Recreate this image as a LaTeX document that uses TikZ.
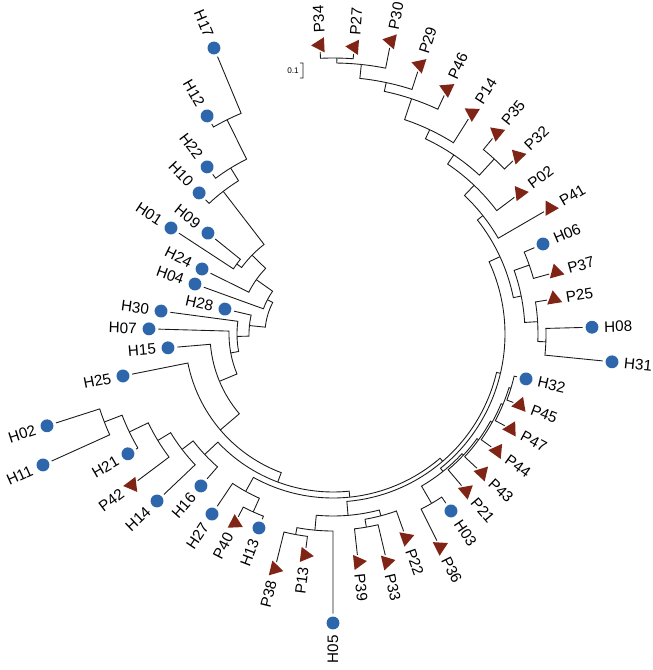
\documentclass[tikz,border=0pt]{standalone}
\usepackage{fontspec}
\setmainfont{Liberation Sans}
\usetikzlibrary{shapes.geometric}
\definecolor{hblue}{RGB}{46,102,172}
\definecolor{pred}{RGB}{128,36,22}

\begin{document}
\begin{tikzpicture}[scale=0.03,
  hdot/.style={circle,fill=hblue,minimum size=11pt,inner sep=0pt,outer sep=2.5pt},
  ptri/.style={regular polygon,regular polygon sides=3,fill=pred,minimum size=15pt,inner sep=0pt,outer sep=1.5pt},
  lbl/.style={font=\fontsize{13}{14}\selectfont,inner sep=0pt},
  ls/.style={anchor=east,rotate=180},
  rs/.style={anchor=west},
  br/.style={line width=0.75pt,black!90}
]
\useasboundingbox (-333,-336) rectangle (320,334);

% tips: name/angle/radius/marker/label side
\foreach \n/\a/\r/\k/\s in {
  H17/112.6/309.8/hdot/ls, H12/120.0/251.8/hdot/ls, H22/127.0/209.2/hdot/ls,
  H10/133.5/194.5/hdot/ls, H09/141.1/160.7/hdot/ls, H01/146.8/193.6/hdot/ls,
  H24/153.6/146.2/hdot/ls, H04/160.1/146.8/hdot/ls, H28/167.0/110.9/hdot/ls,
  H30/172.4/173.5/hdot/ls, H07/178.4/184.1/hdot/ls, H15/184.8/165.6/hdot/ls,
  H25/191.3/214.2/hdot/ls, H02/197.8/300.4/hdot/ls, H11/204.3/318.2/hdot/ls,
  H21/210.3/237.5/hdot/ls, P42/216.9/251.4/ptri/ls, H14/223.5/242.6/hdot/ls,
  H16/229.0/201.3/hdot/ls, H27/236.1/216.9/hdot/ls, P40/242.6/212.9/ptri/ls,
  H13/249.1/207.6/hdot/ls, P38/256.1/242.1/ptri/ls, P13/262.8/222.8/ptri/ls,
  H05/270.0/289.0/hdot/ls, P39/276.3/229.4/ptri/rs, P33/283.3/234.3/ptri/rs,
  P22/289.7/216.7/ptri/rs, P36/296.7/238.4/ptri/rs, H03/303.7/212.7/hdot/rs,
  P21/310.3/205.8/ptri/rs, P43/317.0/203.8/ptri/rs, P44/324.5/201.5/ptri/rs,
  P47/331.9/201.8/ptri/rs, P45/339.2/200.0/ptri/rs, H32/346.9/198.2/hdot/rs,
  H31/354.3/280.4/hdot/rs, H08/361.5/259.1/hdot/rs, P25/369.0/223.8/ptri/rs,
  P37/375.5/231.5/ptri/rs, H06/383.2/228.5/hdot/rs, P41/390.1/250.9/ptri/rs,
  P02/397.0/234.2/ptri/rs, P32/403.9/256.7/ptri/rs, P35/410.8/259.4/ptri/rs,
  P14/417.8/261.1/ptri/rs, P46/425.0/270.2/ptri/rs, P29/432.1/282.7/ptri/rs,
  P30/438.8/298.7/ptri/rs, P27/445.8/287.8/ptri/rs, P34/452.6/289.3/ptri/rs}{
  \node[\k,rotate=\a] (\n) at (\a:\r) {};
  \node[lbl,rotate=\a,\s] at ({\a}:{\r+12}) {\n};
}

% inner nodes: name/angle/radius
\foreach \n/\a/\r in {
  A1/116.3/239, A2/121.65/195, A3/127.58/180, C1/143.95/119, A4/135.77/113,
  A5/144.69/94, A6/152.39/74, K0/201.05/245, K1/205.68/226, K2/211.29/205,
  K3/217.4/190, K4/223.2/176, M0/245.85/195, M1/240.98/180, N1/259.45/204,
  N2/264.73/197, N3/279.8/196, N4/284.75/188, B1/274.74/182, N5/300.2/196,
  S1/343.05/186, S2/337.48/184, S3/330.99/182, S4/324.0/180, S5/317.15/178,
  S6/308.68/176, Q0/357.9/213, Q2/363.45/205, Q1/379.35/208, Q3/371.4/192,
  U1/407.35/238, T1/449.2/276, T2/444.0/271, T3/438.05/257, T4/431.53/248,
  T5/424.66/226, T6/416.0/216, T7/406.5/205, T8/398.3/191, V/384.85/184,
  S7/346.77/172, S8/310.75/168, S9/275.87/164, L/249.53/158, Y/220.42/148,
  N15/202.61/123, N07/190.5/104, N30/181.45/96, N28/174.23/84, A7/163.31/68}
  \coordinate (\n) at (\a:\r);

% branches: child/child angle/parent angle/parent radius
\foreach \c/\ac/\ap/\rp in {
  H17/112.6/116.3/239, H12/120.0/116.3/239,
  A1/116.3/121.65/195, H22/127.0/121.65/195,
  A2/121.65/127.58/180, H10/133.5/127.58/180,
  H09/141.1/143.95/119, H01/146.8/143.95/119,
  A3/127.58/135.77/113, C1/143.95/135.77/113,
  A4/135.77/144.69/94, H24/153.6/144.69/94,
  A5/144.69/152.39/74, H04/160.1/152.39/74,
  H02/197.8/201.05/245, H11/204.3/201.05/245,
  K0/201.05/205.68/226, H21/210.3/205.68/226,
  K1/205.68/211.29/205, P42/216.9/211.29/205,
  K2/211.29/217.4/190, H14/223.5/217.4/190,
  K3/217.4/223.2/176, H16/229.0/223.2/176,
  P40/242.6/245.85/195, H13/249.1/245.85/195,
  H27/236.1/240.98/180, M0/245.85/240.98/180,
  P38/256.1/259.45/204, P13/262.8/259.45/204,
  N1/259.45/264.73/197, H05/270.0/264.73/197,
  P39/276.3/279.8/196, P33/283.3/279.8/196,
  N3/279.8/284.75/188, P22/289.7/284.75/188,
  N2/264.73/274.74/182, N4/284.75/274.74/182,
  P36/296.7/300.2/196, H03/303.7/300.2/196,
  P45/339.2/343.05/186, H32/346.9/343.05/186,
  P47/331.9/337.48/184, S1/343.05/337.48/184,
  P44/324.5/330.99/182, S2/337.48/330.99/182,
  P43/317.0/324.0/180, S3/330.99/324.0/180,
  P21/310.3/317.15/178, S4/324.0/317.15/178,
  N5/300.2/308.68/176, S5/317.15/308.68/176,
  H31/354.3/357.9/213, H08/361.5/357.9/213,
  Q0/357.9/363.45/205, P25/369.0/363.45/205,
  P37/375.5/379.35/208, H06/383.2/379.35/208,
  Q2/363.45/371.4/192, Q1/379.35/371.4/192,
  P32/403.9/407.35/238, P35/410.8/407.35/238,
  P27/445.8/449.2/276, P34/452.6/449.2/276,
  P30/438.8/444.0/271, T1/449.2/444.0/271,
  P29/432.1/438.05/257, T2/444.0/438.05/257,
  P46/425.0/431.53/248, T3/438.05/431.53/248,
  P14/417.8/424.66/226, T4/431.53/424.66/226,
  U1/407.35/416.0/216, T5/424.66/416.0/216,
  P02/397.0/406.5/205, T6/416.0/406.5/205,
  P41/390.1/398.3/191, T7/406.5/398.3/191,
  Q3/371.4/384.85/184, T8/398.3/384.85/184,
  S6/308.68/346.77/172, V/384.85/346.77/172,
  B1/274.74/310.75/168, S7/346.77/310.75/168,
  M1/240.98/275.87/164, S8/310.75/275.87/164,
  K4/223.2/249.53/158, S9/275.87/249.53/158,
  H25/191.3/220.42/148, L/249.53/220.42/148,
  H15/184.8/202.61/123, Y/220.42/202.61/123,
  H07/178.4/190.5/104, N15/202.61/190.5/104,
  H30/172.4/181.45/96, N07/190.5/181.45/96,
  H28/167.0/174.23/84, N30/181.45/174.23/84,
  A6/152.39/163.31/68, N28/174.23/163.31/68}
  \draw[br] (\c) -- (\ac:\rp) arc[start angle=\ac, end angle=\ap, radius=\rp];

% scale bar
\coordinate (sbt) at (-30,271);
\coordinate (sbb) at (-30,256);
\draw[br] (-33,271) -- (sbt) -- (sbb) -- (-33,256);
\node[font=\fontsize{7}{8}\selectfont,inner sep=0pt] (sbl) at (-40,263.5) {0.1};
\end{tikzpicture}
\end{document}
